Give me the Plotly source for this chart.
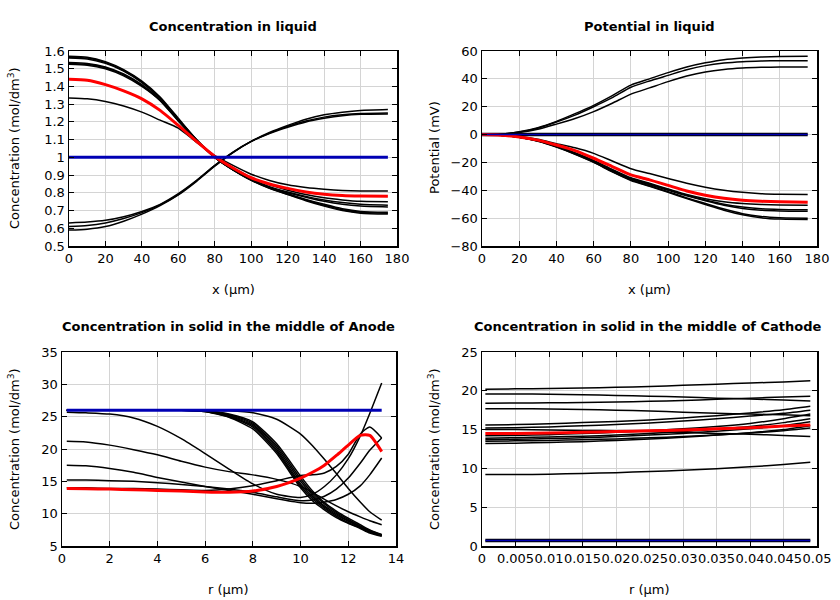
import plotly.graph_objects as go

# ---------------- Data ----------------
# Panel 1: concentration in liquid vs x (um)
x_liq = [0, 10, 20, 30, 40, 50, 60, 70, 80, 90, 100, 110, 120, 130, 140, 150, 160, 175]
liq_black = [
    [1.57, 1.565, 1.54, 1.495, 1.43, 1.34, 1.22, 1.10, 1.0, 0.93, 0.87, 0.825, 0.79, 0.755, 0.725, 0.70, 0.685, 0.68],
    [1.565, 1.56, 1.535, 1.49, 1.425, 1.335, 1.215, 1.10, 1.0, 0.93, 0.872, 0.827, 0.792, 0.76, 0.73, 0.705, 0.69, 0.685],
    [1.56, 1.555, 1.53, 1.487, 1.422, 1.333, 1.213, 1.098, 1.0, 0.93, 0.874, 0.83, 0.795, 0.763, 0.735, 0.71, 0.695, 0.69],
    [1.535, 1.53, 1.51, 1.47, 1.41, 1.325, 1.21, 1.095, 1.0, 0.93, 0.875, 0.83, 0.80, 0.775, 0.752, 0.735, 0.725, 0.72],
    [1.525, 1.52, 1.50, 1.46, 1.40, 1.32, 1.205, 1.095, 1.0, 0.932, 0.878, 0.835, 0.805, 0.78, 0.76, 0.745, 0.735, 0.73],
    [1.53, 1.525, 1.505, 1.465, 1.405, 1.322, 1.207, 1.097, 1.005, 0.94, 0.885, 0.845, 0.815, 0.79, 0.772, 0.76, 0.752, 0.75],
    [1.335, 1.33, 1.315, 1.29, 1.255, 1.21, 1.165, 1.085, 1.01, 0.955, 0.905, 0.87, 0.845, 0.83, 0.82, 0.813, 0.81, 0.81],
    [0.63, 0.635, 0.645, 0.665, 0.695, 0.735, 0.795, 0.87, 0.955, 1.03, 1.09, 1.135, 1.17, 1.20, 1.22, 1.235, 1.243, 1.245],
    [0.61, 0.615, 0.63, 0.655, 0.688, 0.732, 0.79, 0.868, 0.953, 1.028, 1.09, 1.137, 1.175, 1.205, 1.227, 1.24, 1.247, 1.25],
    [0.59, 0.595, 0.61, 0.64, 0.68, 0.728, 0.788, 0.865, 0.95, 1.027, 1.09, 1.14, 1.18, 1.215, 1.24, 1.255, 1.265, 1.27],
]
liq_red = [1.44, 1.435, 1.41, 1.375, 1.33, 1.265, 1.18, 1.09, 1.005, 0.94, 0.885, 0.85, 0.825, 0.805, 0.792, 0.785, 0.782, 0.78]
liq_blue = [1.0] * len(x_liq)

# Panel 2: potential in liquid vs x (um)
pot_black = [
    [0, 0.3, 2, 5, 9.5, 15, 21, 28, 35.5, 40, 44.5, 48.5, 51.5, 53.8, 55, 55.7, 56, 56.2],
    [0, 0.3, 1.8, 4.6, 9, 14, 20, 26.5, 34, 38.5, 42.5, 46.5, 49.5, 51.3, 52.3, 52.8, 53, 53],
    [0, 0.2, 1.5, 3.8, 7.5, 11.5, 16.5, 22.5, 29, 33.5, 38, 42, 45, 46.8, 47.8, 48.3, 48.5, 48.5],
    [0, -0.3, -1.3, -3.3, -6.5, -9.5, -13.5, -19, -24.5, -28, -31.5, -35, -37.8, -40, -41.5, -42.4, -42.8, -43],
    [0, -0.4, -1.8, -4.3, -8.2, -13, -18.5, -25, -31, -35, -39, -43, -46, -48.2, -49.5, -50.2, -50.5, -50.8],
    [0, -0.4, -1.9, -4.5, -8.5, -13.5, -19, -25.5, -31.5, -35.5, -39.5, -43.5, -47, -50, -52, -53.3, -53.8, -54],
    [0, -0.4, -1.9, -4.5, -8.6, -13.6, -19.2, -25.8, -32, -36, -40, -44, -47.5, -50.7, -53, -54.3, -54.8, -55],
    [0, -0.4, -2.0, -4.7, -8.8, -14, -19.8, -26.5, -32.5, -36.8, -41, -45.5, -49.5, -53.5, -56.8, -58.8, -59.7, -60],
    [0, -0.4, -2.0, -4.8, -9, -14.2, -20, -26.8, -33, -37.2, -41.5, -46, -50.2, -54.3, -57.6, -59.8, -60.7, -61],
]
pot_zero_black = [0] * len(x_liq)
pot_red = [0, -0.4, -1.7, -4, -7.5, -11.5, -17, -23, -29, -32.5, -36.5, -40.5, -43.5, -45.8, -47.2, -47.9, -48.3, -48.6]
pot_blue = [0] * len(x_liq)

# Panel 3: concentration in solid, middle of anode vs r (um)
r_an = [0.2, 1, 2, 3, 4, 5, 6, 7, 8, 9, 10, 10.5, 11, 11.5, 12, 12.5, 12.9, 13.4]
an_black = [
    [26, 26, 26, 26, 26, 26, 25.9, 25.4, 24.2, 20.8, 15.8, 13.5, 11.7, 10.4, 9.3, 8.3, 7.5, 6.8],
    [26, 26, 26, 26, 26, 26, 25.9, 25.3, 24.0, 20.5, 15.4, 13.2, 11.5, 10.2, 9.1, 8.1, 7.4, 6.7],
    [26, 26, 26, 26, 26, 26, 25.9, 25.2, 23.8, 20.2, 15.0, 12.9, 11.2, 10.0, 8.9, 8.0, 7.3, 6.7],
    [26, 26, 26, 26, 26, 26, 25.8, 25.1, 23.6, 19.9, 14.6, 12.6, 11.0, 9.8, 8.8, 7.9, 7.2, 6.6],
    [26, 26, 26, 26, 26, 26, 25.8, 25.0, 23.4, 19.6, 14.3, 12.3, 10.8, 9.6, 8.6, 7.8, 7.1, 6.6],
    [26, 26, 26, 26, 26, 26, 25.8, 24.9, 23.1, 19.3, 14.0, 12.0, 10.6, 9.4, 8.5, 7.7, 7.0, 6.5],
    [26, 26, 26, 26, 26, 26, 26, 25.9, 25.6, 24.6, 22.3, 20.5, 18.4, 16.2, 13.9, 11.8, 10.3, 9.0],
    [25.7, 25.6, 25.4, 24.8, 23.5, 21.6, 19.3, 16.9, 14.6, 13.0, 12.5, 13.0, 14.2, 16.0, 18.5, 22.0, 25.5, 30.2],
    [21.2, 21.1, 20.6, 19.9, 19.1, 18.1, 17.2, 16.5, 16.0, 15.3, 14.2, 13.3, 12.2, 11.2, 10.3, 9.5, 8.9, 8.3],
    [17.5, 17.4, 17.0, 16.4, 15.6, 14.9, 14.2, 13.6, 13.0, 12.3, 11.7, 11.6, 11.8, 12.2, 13.0, 14.3, 16.0, 18.6],
    [15.2, 15.2, 15.1, 15.0, 14.8, 14.5, 14.2, 13.8, 13.3, 12.6, 12.0, 12.1, 12.7, 13.8, 15.5, 17.8, 19.8, 21.7],
    [14.0, 14.0, 13.9, 13.9, 13.8, 13.7, 13.6, 13.8, 14.3, 15.1, 15.9, 16.0, 16.3, 17.3, 19.2, 22.3, 23.4, 21.7],
]
an_red = [13.9, 13.85, 13.8, 13.7, 13.6, 13.5, 13.35, 13.3, 13.5, 14.2, 15.5, 16.4, 17.5, 19.0, 20.6, 22.1, 22.1, 19.6]
an_blue = [26.0] * len(r_an)

# Panel 4: concentration in solid, middle of cathode vs r (um)
r_ca = [0.0005, 0.005, 0.01, 0.015, 0.02, 0.025, 0.03, 0.035, 0.04, 0.045, 0.049]
ca_black = [
    [20.2, 20.25, 20.3, 20.35, 20.45, 20.55, 20.7, 20.85, 21.0, 21.15, 21.3],
    [19.6, 19.6, 19.55, 19.5, 19.4, 19.3, 19.2, 19.05, 18.95, 18.8, 18.7],
    [18.4, 18.42, 18.45, 18.5, 18.55, 18.65, 18.75, 18.9, 19.05, 19.2, 19.3],
    [17.7, 17.7, 17.65, 17.6, 17.5, 17.4, 17.25, 17.1, 17.0, 16.9, 16.8],
    [15.6, 15.65, 15.75, 15.9, 16.05, 16.25, 16.5, 16.8, 17.15, 17.55, 18.0],
    [15.2, 15.25, 15.35, 15.5, 15.65, 15.85, 16.1, 16.4, 16.75, 17.1, 17.5],
    [15.0, 15.0, 14.95, 14.9, 14.85, 14.75, 14.65, 14.5, 14.4, 14.25, 14.1],
    [14.2, 14.25, 14.35, 14.5, 14.65, 14.85, 15.1, 15.4, 15.8, 16.4, 17.0],
    [13.9, 13.95, 14.05, 14.15, 14.3, 14.5, 14.75, 15.05, 15.4, 15.9, 16.4],
    [13.7, 13.75, 13.85, 13.95, 14.1, 14.3, 14.5, 14.8, 15.1, 15.5, 16.0],
    [13.5, 13.55, 13.6, 13.7, 13.8, 13.95, 14.1, 14.3, 14.55, 14.85, 15.2],
    [13.2, 13.25, 13.35, 13.45, 13.6, 13.8, 14.0, 14.3, 14.6, 15.0, 15.5],
    [9.2, 9.2, 9.25, 9.35, 9.45, 9.6, 9.75, 9.95, 10.2, 10.5, 10.8],
]
ca_zero_black = [0.7] * len(r_ca)
ca_red = [14.5, 14.5, 14.55, 14.65, 14.75, 14.85, 14.95, 15.1, 15.25, 15.45, 15.6]
ca_blue = [0.7] * len(r_ca)

# ---------------- Figure ----------------
fig = go.Figure()

def black_line(xs, ys, xa, ya, width=1.5, spline=True):
    fig.add_trace(go.Scatter(x=xs, y=ys, xaxis=xa, yaxis=ya, mode="lines",
                             line=dict(color="black", width=width,
                                       shape="spline" if spline else "linear", smoothing=0.6),
                             showlegend=False, hoverinfo="skip"))

def red_line(xs, ys, xa, ya):
    fig.add_trace(go.Scatter(x=xs, y=ys, xaxis=xa, yaxis=ya, mode="lines",
                             line=dict(color="#ff0000", width=3, shape="spline", smoothing=0.6),
                             showlegend=False, hoverinfo="skip"))

def blue_line(xs, ys, xa, ya, width=3):
    fig.add_trace(go.Scatter(x=xs, y=ys, xaxis=xa, yaxis=ya, mode="lines",
                             line=dict(color="#0000b4", width=width),
                             showlegend=False, hoverinfo="skip"))

# Panel 1
for ys in liq_black:
    black_line(x_liq, ys, "x", "y")
red_line(x_liq, liq_red, "x", "y")
blue_line(x_liq, liq_blue, "x", "y")

# Panel 2
black_line(x_liq, pot_zero_black, "x2", "y2", width=3.5, spline=False)
for ys in pot_black:
    black_line(x_liq, ys, "x2", "y2")
red_line(x_liq, pot_red, "x2", "y2")
blue_line(x_liq, pot_blue, "x2", "y2", width=1.5)

# Panel 3
for ys in an_black:
    black_line(r_an, ys, "x3", "y3")
red_line(r_an, an_red, "x3", "y3")
blue_line(r_an, an_blue, "x3", "y3")

# Panel 4
black_line(r_ca, ca_zero_black, "x4", "y4", width=3.5, spline=False)
for ys in ca_black:
    black_line(r_ca, ys, "x4", "y4")
red_line(r_ca, ca_red, "x4", "y4")
blue_line(r_ca, ca_blue, "x4", "y4", width=1.5)

W, H = 840, 600
def dx(a, b):
    return [a / W, b / W]
def dy(top, bottom):
    return [1 - bottom / H, 1 - top / H]

font_family = "DejaVu Sans"
ax_common = dict(showline=True, linecolor="black", linewidth=1.5, mirror="ticks",
                 ticks="inside", ticklen=5, tickcolor="black", tickwidth=1,
                 showgrid=True, gridcolor="#d4d4d4", gridwidth=1, zeroline=False,
                 tickfont=dict(family=font_family, size=13, color="black"),
                 tickangle=0, automargin=False)

fig.update_layout(
    template="none",
    width=W, height=H, margin=dict(l=0, r=0, t=0, b=0, autoexpand=False),
    paper_bgcolor="white", plot_bgcolor="white",
    font=dict(family=font_family, size=13, color="black"),
    xaxis=dict(domain=dx(69, 397), range=[0, 180], dtick=20, anchor="y", **ax_common),
    yaxis=dict(domain=dy(51, 246), range=[0.5, 1.6], dtick=0.1, anchor="x", **ax_common),
    xaxis2=dict(domain=dx(482, 817), range=[0, 180], dtick=20, anchor="y2", **ax_common),
    yaxis2=dict(domain=dy(51, 246), range=[-80, 60], dtick=20, anchor="x2", **ax_common),
    xaxis3=dict(domain=dx(62, 396), range=[0, 14], dtick=2, anchor="y3", **ax_common),
    yaxis3=dict(domain=dy(352, 546), range=[5, 35], dtick=5, anchor="x3", **ax_common),
    xaxis4=dict(domain=dx(482, 817), range=[0, 0.05], anchor="y4",
                tickvals=[0, 0.005, 0.01, 0.015, 0.02, 0.025, 0.03, 0.035, 0.04, 0.045, 0.05],
                ticktext=["0", "0.005", "0.01", "0.015", "0.02", "0.025", "0.03", "0.035", "0.04", "0.045", "0.05"],
                **ax_common),
    yaxis4=dict(domain=dy(352, 546), range=[0, 25], dtick=5, anchor="x4", **ax_common),
)

def note(text, px, py, size=13, angle=0):
    fig.add_annotation(text=text, x=px / W, y=1 - py / H, xref="paper", yref="paper",
                       xanchor="center", yanchor="middle", showarrow=False, textangle=angle,
                       font=dict(family=font_family, size=size, color="black"))

# panel titles
note("<b>Concentration in liquid</b>", 233, 26)
note("<b>Potential in liquid</b>", 649, 26)
note("<b>Concentration in solid in the middle of Anode</b>", 229, 326)
note("<b>Concentration in solid in the middle of Cathode</b>", 648, 326)
# axis titles
note("x (µm)", 233, 289)
note("x (µm)", 649, 289)
note("r (µm)", 229, 589)
note("r (µm)", 649, 589)
note("Concentration (mol/dm<sup>3</sup>)", 14, 148, angle=-90)
note("Potential (mV)", 434, 148, angle=-90)
note("Concentration (mol/dm<sup>3</sup>)", 14, 449, angle=-90)
note("Concentration (mol/dm<sup>3</sup>)", 434, 449, angle=-90)

fig.write_html("out.html", config={"displayModeBar": False, "staticPlot": True},
               post_script="document.body.style.margin='0';document.body.style.overflow='hidden';")
